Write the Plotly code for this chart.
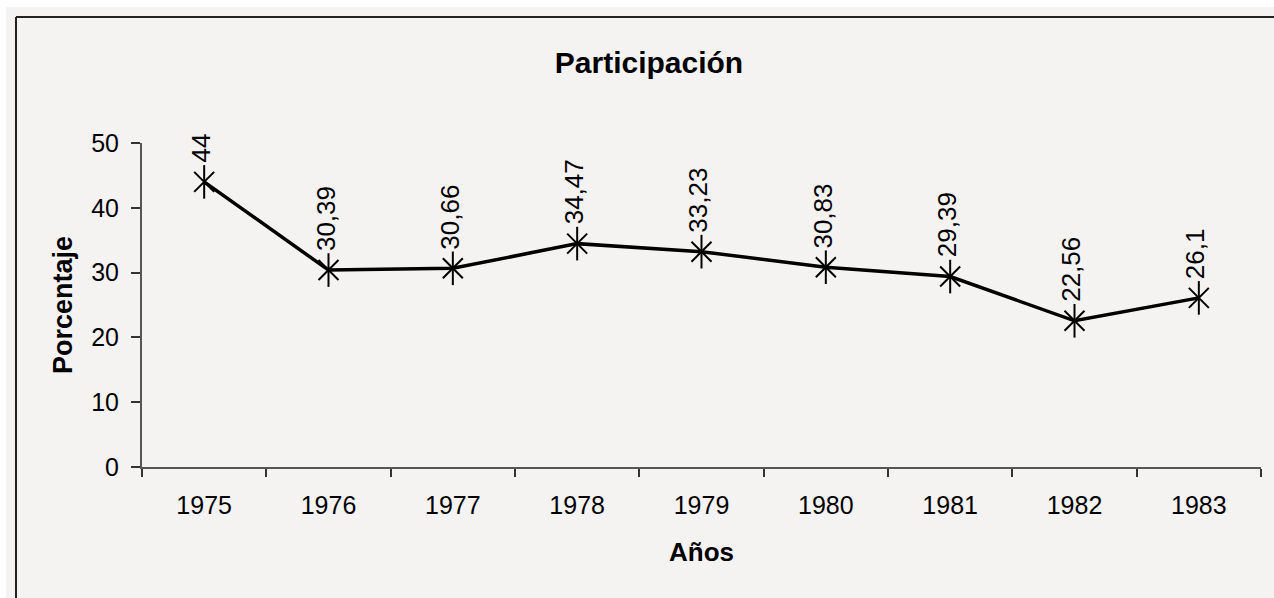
import plotly.graph_objects as go

years = ["1975", "1976", "1977", "1978", "1979", "1980", "1981", "1982", "1983"]
values = [44, 30.39, 30.66, 34.47, 33.23, 30.83, 29.39, 22.56, 26.1]
labels = ["44", "30,39", "30,66", "34,47", "33,23", "30,83", "29,39", "22,56", "26,1"]
y_ticks = [0, 10, 20, 30, 40, 50]

W, H = 1274, 598
L, R, T, B = 142, 13, 143, 131
pw, ph = W - L - R, H - T - B

def px_x(p):
    return (p - L) / pw

def px_y(p):
    return (H - B - p) / ph

FONT = "Liberation Sans, Arial, sans-serif"

fig = go.Figure()
fig.add_trace(go.Scatter(
    x=years, y=values, mode="lines",
    line=dict(color="black", width=3.5), hoverinfo="skip", showlegend=False))
fig.add_trace(go.Scatter(
    x=years, y=values, mode="markers",
    marker=dict(symbol="x-thin-open", size=20, color="black", line=dict(color="black", width=2)),
    showlegend=False))
fig.add_trace(go.Scatter(
    x=years, y=values, mode="markers",
    marker=dict(symbol="line-ns-open", size=24, color="black", line=dict(color="black", width=2)),
    showlegend=False))

for i, (v, lab) in enumerate(zip(values, labels)):
    fig.add_annotation(x=i, y=v, xref="x", yref="y", text=lab, showarrow=False,
                       textangle=-90, yanchor="bottom", xanchor="center",
                       yshift=17, xshift=-3,
                       font=dict(family=FONT, size=26, color="black"))

# chart frame (left and top border lines as in the reference)
fig.add_shape(type="rect", xref="paper", yref="paper",
              x0=px_x(-5), x1=px_x(W + 5), y0=px_y(7), y1=px_y(-5),
              fillcolor="white", line=dict(width=0), layer="below")
fig.add_shape(type="rect", xref="paper", yref="paper",
              x0=px_x(-5), x1=px_x(6), y0=px_y(H + 5), y1=px_y(-5),
              fillcolor="white", line=dict(width=0), layer="below")
fig.add_shape(type="line", xref="paper", yref="paper",
              x0=px_x(16), x1=px_x(W + 5), y0=px_y(17), y1=px_y(17),
              line=dict(color="#222222", width=2))
fig.add_shape(type="line", xref="paper", yref="paper",
              x0=px_x(16), x1=px_x(16), y0=px_y(17), y1=px_y(H + 5),
              line=dict(color="#222222", width=2))

fig.update_layout(
    width=W, height=H,
    margin=dict(l=L, r=R, t=T, b=B),
    paper_bgcolor="#f4f3f2", plot_bgcolor="#f4f3f2",
    font=dict(family=FONT, color="black"),
    title=dict(text="<b>Participación</b>", x=649 / W, xref="container", xanchor="center",
               y=1 - 62 / H, yref="container", yanchor="middle",
               font=dict(family=FONT, size=30, color="black")),
    showlegend=False,
)
fig.update_xaxes(
    type="category", range=[-0.5, 8.5], tickson="boundaries",
    ticks="outside", ticklen=8, tickwidth=1.5, tickcolor="#333333",
    showline=True, linecolor="#555555", linewidth=2, showgrid=False, zeroline=False,
    ticklabelstandoff=15,
    tickfont=dict(family=FONT, size=25, color="black"),
    title=dict(text="<b>Años</b>", font=dict(family=FONT, size=26, color="black"), standoff=25),
)
fig.update_yaxes(
    range=[0, 50], tickvals=y_ticks, ticks="outside", ticklen=9, tickwidth=1.5,
    tickcolor="#333333", showline=True, linecolor="#555555", linewidth=2,
    showgrid=False, zeroline=False, ticklabelstandoff=7,
    tickfont=dict(family=FONT, size=25, color="black"),
    title=dict(text="<b>Porcentaje</b>", font=dict(family=FONT, size=27, color="black"), standoff=11),
)

fig.write_html("out.html", config={"displayModeBar": False},
               post_script="document.body.style.margin='0';document.body.style.overflow='hidden';")
